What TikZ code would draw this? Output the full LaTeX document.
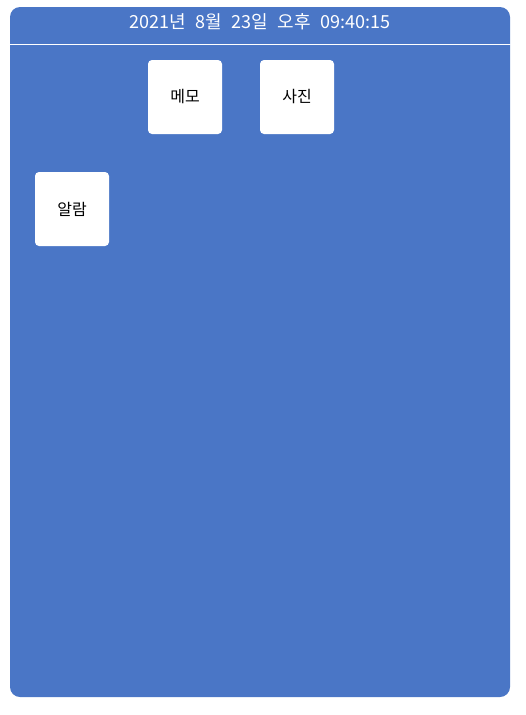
\documentclass[tikz,border=0pt]{standalone}
\usepackage{fontspec}
\setmainfont{Noto Sans CJK KR}
\definecolor{panelblue}{RGB}{74,118,198}
\tikzset{
  appbox/.style={fill=white,rounded corners=4pt,minimum width=74pt,minimum height=74pt,inner sep=0pt,font=\fontsize{16}{18}\selectfont},
}
\newcommand{\gap}{\hspace{9.5pt}}
\begin{document}
\begin{tikzpicture}[x=1pt,y=-1pt,line cap=round,line join=round]
	\useasboundingbox (0,0) rectangle (526,715);
	\fill[color=panelblue,rounded corners=10pt] (10,7) rectangle (510,697);
	\coordinate (hl) at (10,44);
	\coordinate (hr) at (510,44);
	\draw[color=white,line width=1pt] (hl) -- (hr);
	\node[text=white,font=\fontsize{18}{20}\selectfont] (clock) at (260,22) {2021년\gap{}8월\gap{}23일\gap{}오후\gap{}09:40:15};
	\node[appbox] (memo) at (185,97) {메모};
	\node[appbox] (photo) at (297,97) {사진};
	\node[appbox] (alarm) at (72,209) {알람};
\end{tikzpicture}
\end{document}
